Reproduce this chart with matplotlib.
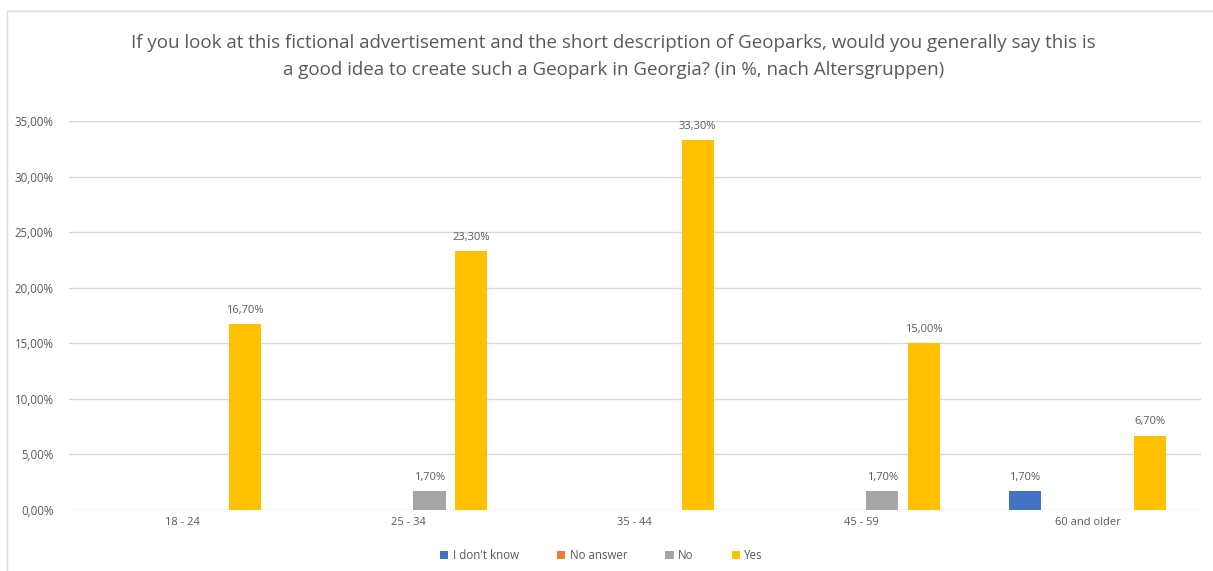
import matplotlib.pyplot as plt
import numpy as np
from matplotlib.patches import Rectangle

age_groups = ['18 - 24', '25 - 34', '35 - 44', '45 - 59', '60 and older']
series_names = ["I don't know", 'No answer', 'No', 'Yes']
dont_know = [0, 0, 0, 0, 1.7]
no_answer = [0, 0, 0, 0, 0]
no = [0, 1.7, 0, 1.7, 0]
yes = [16.7, 23.3, 33.3, 15.0, 6.7]
colors = ['#4472C4', '#ED7D31', '#A5A5A5', '#FFC000']

title = ('If you look at this fictional advertisement and the short description of Geoparks, would you generally say this is\n'
         'a good idea to create such a Geopark in Georgia? (in %, nach Altersgruppen)')

txt = '#595959'
plt.rcParams['font.family'] = ['Open Sans', 'DejaVu Sans']

fig = plt.figure(figsize=(12.13, 5.71), dpi=100)
ax = fig.add_axes([0.0569, 0.1068, 0.933, 0.681])

# light chart border like the Excel frame
fig.patches.append(Rectangle((0.006, -0.01), 1.0, 0.99, transform=fig.transFigure,
                             fill=False, edgecolor='#D9D9D9', linewidth=1))

x = np.arange(len(age_groups))
step = 0.185
width = 0.142
all_series = [dont_know, no_answer, no, yes]
for i, (vals, name, c) in enumerate(zip(all_series, series_names, colors)):
    pos = x + (i - 1.5) * step
    bars = ax.bar(pos, vals, width, color=c, label=name, zorder=3)
    for b, v in zip(bars, vals):
        if v > 0:
            ax.text(b.get_x() + b.get_width() / 2, v + 0.75, f'{v:.2f}'.replace('.', ',') + '%',
                    ha='center', va='bottom', fontsize=8, color=txt)

ax.set_xlim(-0.5, len(age_groups) - 0.5)
ax.set_ylim(0, 35)
yt = np.arange(0, 36, 5)
ax.set_yticks(yt)
ax.set_yticklabels([f'{v:.2f}'.replace('.', ',') + '%' for v in yt], fontsize=8.3, color=txt)
ax.set_xticks(x)
ax.set_xticklabels(age_groups, fontsize=8, color=txt)
ax.tick_params(axis='x', length=0, pad=5)
ax.tick_params(axis='y', length=0, pad=11)
ax.grid(axis='y', color='#D9D9D9', linewidth=1, zorder=0)
for s in ax.spines.values():
    s.set_visible(False)

fig.text(0.506, 0.941, title, ha='center', va='top', fontsize=13.5, color=txt, linespacing=1.65)

fig.legend(loc='center', bbox_to_anchor=(0.496, 0.027), ncol=4, frameon=False,
           fontsize=8.3, labelcolor=txt, handlelength=0.7, handleheight=0.7,
           columnspacing=3.3, handletextpad=0.4)

fig.savefig('out.png', dpi=100, facecolor='white')
